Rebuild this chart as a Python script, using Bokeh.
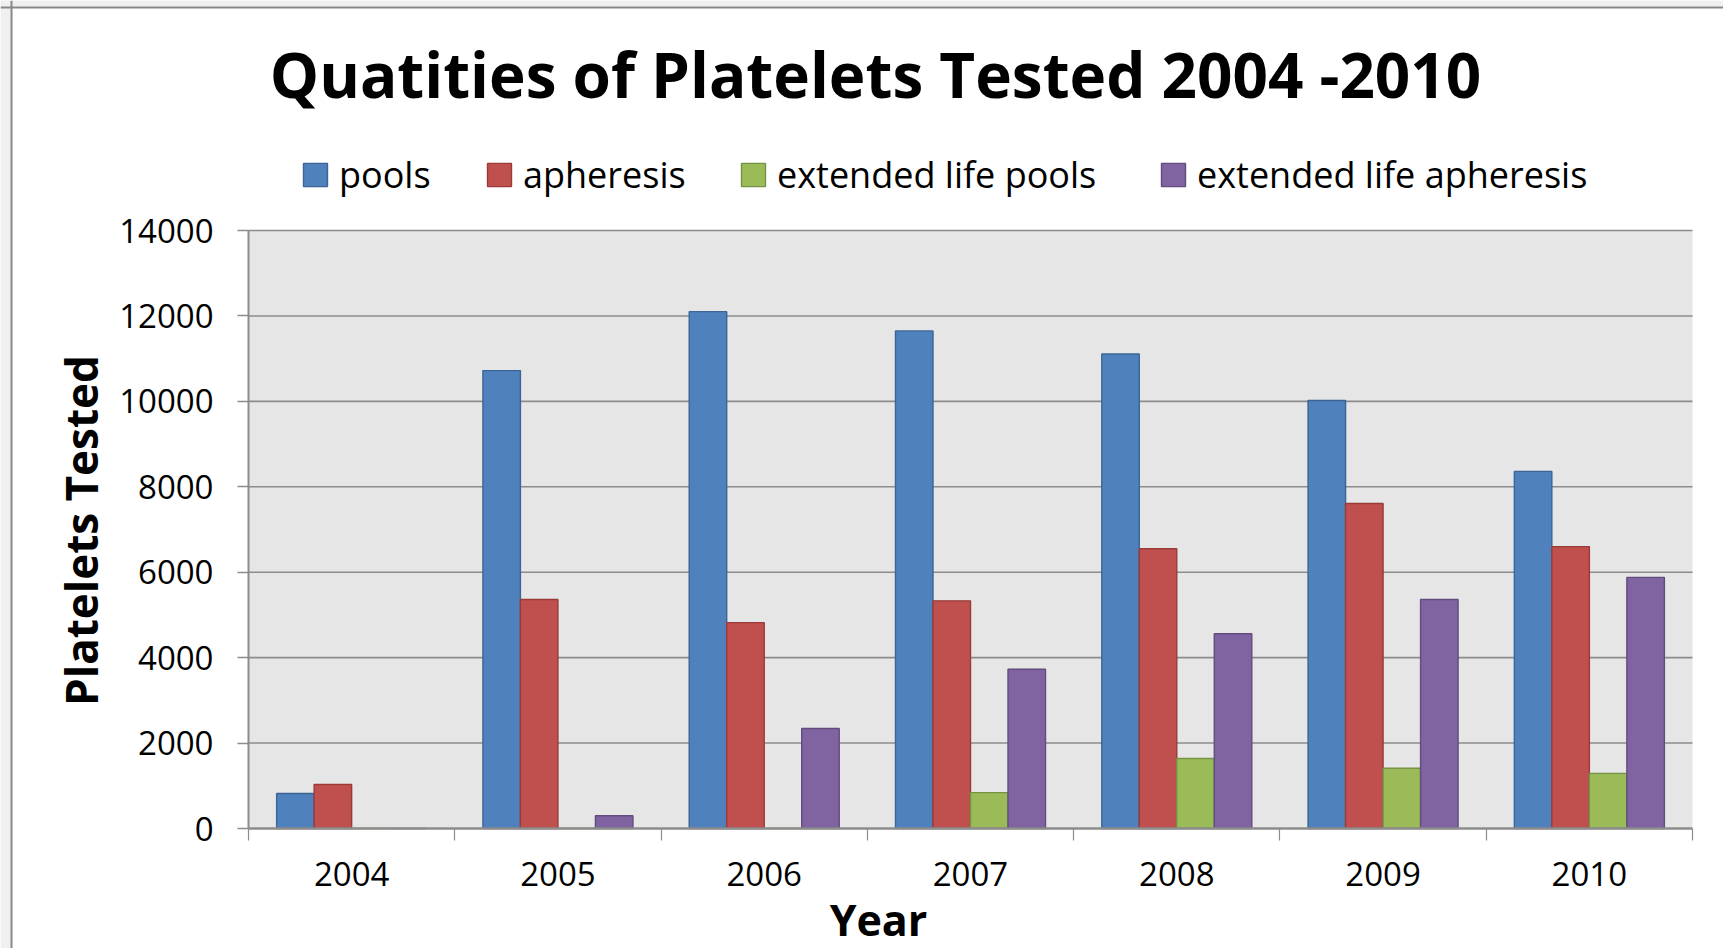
import numpy as np
from bokeh.plotting import figure
from bokeh.models import (Range1d, FixedTicker, Label, Legend, LegendItem,
                          ColumnDataSource, LinearAxis, BoxAnnotation, Span)
from bokeh.transform import dodge
from bokeh.embed import file_html
from bokeh.resources import INLINE

# ---------------- data ----------------
years = ["2004", "2005", "2006", "2007", "2008", "2009", "2010"]
pools = [820, 10720, 12100, 11650, 11110, 10020, 8360]
apheresis = [1030, 5360, 4820, 5330, 6550, 7610, 6600]
ext_life_pools = [0, 0, 0, 840, 1640, 1410, 1290]
ext_life_apheresis = [0, 300, 2340, 3730, 4560, 5360, 5880]
series_names = ["pools", "apheresis", "extended life pools", "extended life apheresis"]
y_ticks = [0, 2000, 4000, 6000, 8000, 10000, 12000, 14000]

title_text = "Quatities of Platelets Tested 2004 -2010"
y_title = "Platelets Tested"
x_title = "Year"

# ---------------- layout (pixels) ----------------
W, H = 1723, 948
PL, PR, PT, PB = 248, 1692, 230, 828       # plot area edges

fills = ["#4f81bd", "#c0504d", "#9bbb59", "#8064a2"]
lines = ["#3c6596", "#9a3b39", "#779244", "#624c7e"]
FONT = "Open Sans"
GRID = "#8c8c8c"

n = len(years)
centers = [i + 0.5 for i in range(n)]
bounds = list(range(n + 1))
y0, y1 = y_ticks[0], y_ticks[-1]

xpx = (PR - PL) / n
ypx = (PB - PT) / (y1 - y0)
x_range = Range1d(-PL / xpx, n + (W - PR) / xpx)
y_range = Range1d(y0 - (H - PB) / ypx, y1 + PT / ypx)

p = figure(width=W, height=H, output_backend="svg", toolbar_location=None,
           x_range=x_range, y_range=y_range, x_axis_location=None,
           y_axis_location=None, min_border=0)
p.background_fill_color = "white"
p.border_fill_color = "white"
p.outline_line_color = None
p.xgrid.visible = False
p.ygrid.visible = False

# outer page strip + chart border like the reference
p.add_layout(BoxAnnotation(right=x_range.start + 10 / xpx, fill_color="#f0f0f0",
                           fill_alpha=1, line_alpha=0, level="underlay"))
p.add_layout(BoxAnnotation(bottom=y_range.end - 6 / ypx, fill_color="#f0f0f0",
                           fill_alpha=1, line_alpha=0, level="underlay"))
p.add_layout(Span(location=x_range.start + 11 / xpx, dimension="height",
                  line_color="#888888", line_width=2))
p.add_layout(Span(location=y_range.end - 7 / ypx, dimension="width",
                  line_color="#888888", line_width=2))

# plot area background and horizontal gridlines (limited to the plot area)
p.add_layout(BoxAnnotation(left=0, right=n, bottom=y0, top=y1, fill_color="#e6e6e6",
                           fill_alpha=1, line_alpha=0, level="underlay"))
grid_src = ColumnDataSource(dict(y=y_ticks[1:]))
p.segment(x0=0, x1=n, y0="y", y1="y", source=grid_src, line_color=GRID, line_width=1.6)

src = ColumnDataSource(dict(x=centers, s0=pools, s1=apheresis, s2=ext_life_pools,
                            s3=ext_life_apheresis))
bw = 1 / 5.5
renderers = []
for k in range(4):
    r = p.vbar(x=dodge("x", (k - 1.5) * bw), top="s%d" % k, width=bw, bottom=0,
               source=src, fill_color=fills[k], line_color=lines[k], line_width=1.4)
    renderers.append(r)

# axes
yax = LinearAxis(ticker=FixedTicker(ticks=y_ticks), fixed_location=0, bounds=(y0, y1))
yax.axis_line_color = GRID
yax.axis_line_width = 2
yax.major_tick_line_color = GRID
yax.major_tick_line_width = 1.5
yax.major_tick_out = 11
yax.major_tick_in = 0
yax.minor_tick_line_color = None
yax.major_label_standoff = 24
yax.major_label_text_font = FONT
yax.major_label_text_font_size = "33px"
yax.major_label_text_color = "black"
p.add_layout(yax, "left")

xax = LinearAxis(ticker=FixedTicker(ticks=centers, minor_ticks=bounds),
                 fixed_location=y0, bounds=(0, n))
xax.major_label_overrides = {c: y for c, y in zip(centers, years)}
xax.axis_line_color = GRID
xax.axis_line_width = 2.5
xax.major_tick_out = 0
xax.major_tick_in = 0
xax.major_tick_line_color = None
xax.minor_tick_line_color = GRID
xax.minor_tick_line_width = 1.2
xax.minor_tick_out = 12
xax.minor_tick_in = 0
xax.major_label_standoff = 21
xax.major_label_text_font = FONT
xax.major_label_text_font_size = "33px"
xax.major_label_text_color = "black"
p.add_layout(xax, "below")

# legends (one per item, placed where the reference puts them)
leg_x = [300, 484, 738, 1158]
for k, r in enumerate(renderers):
    lg = Legend(items=[LegendItem(label=series_names[k], renderers=[r])],
                location=(leg_x[k], H - 199), orientation="horizontal",
                padding=0, margin=0, border_line_color=None,
                background_fill_alpha=0, glyph_width=30, glyph_height=29,
                label_standoff=9, label_height=29, label_text_font=FONT,
                label_text_font_size="36px", label_text_color="black")
    p.add_layout(lg)

# titles
p.add_layout(Label(x=875, y=H - 73, x_units="screen", y_units="screen", text=title_text,
                   text_align="center", text_baseline="alphabetic", text_font=FONT,
                   text_font_style="bold", text_font_size="62px", text_color="black"))
p.add_layout(Label(x=80, y=H - 530, x_units="screen", y_units="screen", text=y_title,
                   angle=np.pi / 2, text_align="center", text_baseline="alphabetic",
                   text_font=FONT, text_font_style="bold", text_font_size="44px",
                   text_color="black"))
p.add_layout(Label(x=878, y=H - 919, x_units="screen", y_units="screen", text=x_title,
                   text_align="center", text_baseline="alphabetic", text_font=FONT,
                   text_font_style="bold", text_font_size="43px", text_color="black"))

open("out.html", "w").write(file_html(p, INLINE))
